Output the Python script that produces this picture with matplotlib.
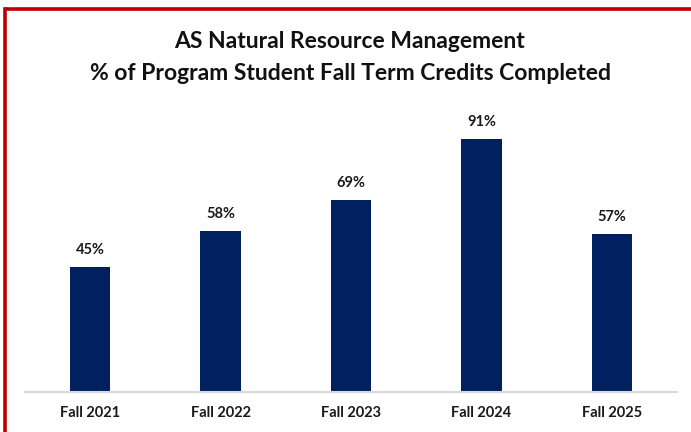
import matplotlib
matplotlib.use("Agg")
import matplotlib.pyplot as plt
from matplotlib.lines import Line2D

categories = ["Fall 2021", "Fall 2022", "Fall 2023", "Fall 2024", "Fall 2025"]
values = [45, 58, 69, 91, 57]
value_labels = ["45%", "58%", "69%", "91%", "57%"]
title_lines = ["AS Natural Resource Management",
               "% of Program Student Fall Term Credits Completed"]

plt.rcParams['font.family'] = ['Lato', 'DejaVu Sans']

W, H = 691, 432
fig = plt.figure(figsize=(W / 100, H / 100), dpi=100)
fig.patch.set_facecolor('white')

# axes: x from 25 to 677 px, baseline at y=392, top at 114 (for 100%)
left, right = 25 / W, 677 / W
bottom, top = (H - 392) / H, (H - 114) / H
ax = fig.add_axes([left, bottom, right - left, top - bottom])
ax.set_xlim(-0.5, len(categories) - 0.5)
ax.set_ylim(0, 100)

x = list(range(len(categories)))
ax.bar(x, values, width=0.31, color='#002060', zorder=2)
for xi, v, lab in zip(x, values, value_labels):
    ax.annotate(lab, (xi, v), xytext=(0, 7), textcoords='offset points',
                ha='center', va='bottom', fontsize=10.5, fontweight='bold',
                color='#1a1a1a')

for s in ['top', 'right', 'left']:
    ax.spines[s].set_visible(False)
ax.spines['bottom'].set_color('#d9d9d9')
ax.spines['bottom'].set_linewidth(1.5)
ax.set_yticks([])
ax.set_xticks(x)
ax.set_xticklabels(categories, fontsize=10.5, fontweight='bold', color='#1a1a1a')
ax.tick_params(axis='x', length=0, pad=10)
ax.patch.set_alpha(0)

fig.text(350 / W, 1 - 42 / H, title_lines[0], ha='center', va='center',
         fontsize=16.5, fontweight='bold', color='#111111')
fig.text(350 / W, 1 - 73 / H, title_lines[1], ha='center', va='center',
         fontsize=16.5, fontweight='bold', color='#111111')

# red frame (top and left edges visible)
fig.add_artist(Line2D([4.5 / W, 1.0], [1 - 8.5 / H, 1 - 8.5 / H],
                      transform=fig.transFigure, color='#c00000', linewidth=2.6,
                      solid_capstyle='butt'))
fig.add_artist(Line2D([4.5 / W, 4.5 / W], [0, 1 - 8.5 / H],
                      transform=fig.transFigure, color='#c00000', linewidth=2.6,
                      solid_capstyle='projecting'))

fig.savefig("out.png", dpi=100)
